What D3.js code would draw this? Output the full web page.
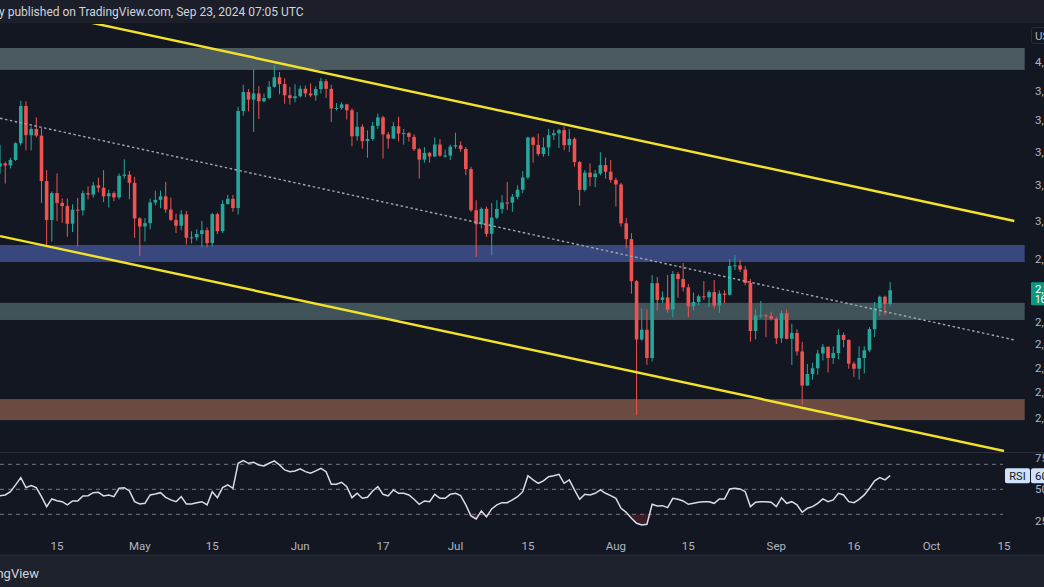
<!DOCTYPE html>
<html><head><meta charset="utf-8">
<script src="https://cdn.jsdelivr.net/npm/d3@7"></script>
<style>
html,body{margin:0;padding:0;background:#131722;overflow:hidden}
svg{display:block}
text{font-family:Roboto,"Noto Sans",sans-serif}
</style></head><body>
<svg id="c" width="1044" height="587"></svg>
<script>
// ---------- DATA ----------
const dates = [
"2024-04-03","2024-04-04","2024-04-05","2024-04-06","2024-04-07","2024-04-08","2024-04-09","2024-04-10","2024-04-11","2024-04-12","2024-04-13","2024-04-14","2024-04-15","2024-04-16","2024-04-17","2024-04-18","2024-04-19","2024-04-20","2024-04-21","2024-04-22","2024-04-23","2024-04-24","2024-04-25","2024-04-26","2024-04-27","2024-04-28","2024-04-29","2024-04-30",
"2024-05-01","2024-05-02","2024-05-03","2024-05-04","2024-05-05","2024-05-06","2024-05-07","2024-05-08","2024-05-09","2024-05-10","2024-05-11","2024-05-12","2024-05-13","2024-05-14","2024-05-15","2024-05-16","2024-05-17","2024-05-18","2024-05-19","2024-05-20","2024-05-21","2024-05-22","2024-05-23","2024-05-24","2024-05-25","2024-05-26","2024-05-27","2024-05-28","2024-05-29","2024-05-30","2024-05-31",
"2024-06-01","2024-06-02","2024-06-03","2024-06-04","2024-06-05","2024-06-06","2024-06-07","2024-06-08","2024-06-09","2024-06-10","2024-06-11","2024-06-12","2024-06-13","2024-06-14","2024-06-15","2024-06-16","2024-06-17","2024-06-18","2024-06-19","2024-06-20","2024-06-21","2024-06-22","2024-06-23","2024-06-24","2024-06-25","2024-06-26","2024-06-27","2024-06-28","2024-06-29","2024-06-30",
"2024-07-01","2024-07-02","2024-07-03","2024-07-04","2024-07-05","2024-07-06","2024-07-07","2024-07-08","2024-07-09","2024-07-10","2024-07-11","2024-07-12","2024-07-13","2024-07-14","2024-07-15","2024-07-16","2024-07-17","2024-07-18","2024-07-19","2024-07-20","2024-07-21","2024-07-22","2024-07-23","2024-07-24","2024-07-25","2024-07-26","2024-07-27","2024-07-28","2024-07-29","2024-07-30","2024-07-31",
"2024-08-01","2024-08-02","2024-08-03","2024-08-04","2024-08-05","2024-08-06","2024-08-07","2024-08-08","2024-08-09","2024-08-10","2024-08-11","2024-08-12","2024-08-13","2024-08-14","2024-08-15","2024-08-16","2024-08-17","2024-08-18","2024-08-19","2024-08-20","2024-08-21","2024-08-22","2024-08-23","2024-08-24","2024-08-25","2024-08-26","2024-08-27","2024-08-28","2024-08-29","2024-08-30","2024-08-31",
"2024-09-01","2024-09-02","2024-09-03","2024-09-04","2024-09-05","2024-09-06","2024-09-07","2024-09-08","2024-09-09","2024-09-10","2024-09-11","2024-09-12","2024-09-13","2024-09-14","2024-09-15","2024-09-16","2024-09-17","2024-09-18","2024-09-19","2024-09-20","2024-09-21","2024-09-22","2024-09-23"
];
const open = [
3278,3311,3330,3318,3351,3454,3695,3505,3545,3502,3225,3005,3156,3100,3082,2985,3062,3058,3155,3147,3200,3186,3137,3155,3131,3256,3263,3215,
3014,2970,2988,3102,3117,3137,3063,3006,2974,3036,2910,2912,2930,2950,2882,3037,2945,3094,3123,3071,3662,3790,3738,3780,3727,3749,3826,3893,3845,3768,3748,
3761,3813,3780,3767,3810,3865,3812,3679,3682,3706,3667,3498,3559,3467,3481,3565,3620,3510,3483,3562,3515,3518,3494,3417,3353,3394,3372,3446,3378,3378,
3433,3441,3418,3296,3059,2982,3067,2931,3018,3066,3102,3101,3134,3175,3246,3490,3444,3387,3428,3505,3517,3537,3442,3482,3338,3174,3275,3248,3269,3320,3280,
3232,3205,2987,2903,2690,2420,2463,2340,2680,2600,2612,2555,2725,2700,2660,2570,2590,2617,2612,2637,2573,2630,2624,2765,2768,2747,2681,2457,2528,2528,2525,
2513,2425,2538,2423,2449,2368,2226,2273,2297,2359,2388,2340,2361,2440,2418,2316,2295,2340,2373,2466,2561,2615,2581
];
const high = [
3440,3445,3340,3365,3460,3730,3726,3560,3620,3550,3290,3165,3270,3125,3125,3092,3128,3170,3195,3220,3245,3290,3175,3165,3270,3355,3285,3250,
3020,3015,3125,3170,3170,3220,3130,3040,3060,3055,2945,2955,3000,2965,3045,3045,3115,3145,3145,3690,3840,3810,3950,3830,3780,3865,3977,3930,3885,3825,3845,
3835,3835,3850,3830,3888,3880,3840,3715,3720,3710,3680,3655,3575,3535,3590,3645,3630,3525,3590,3625,3545,3525,3510,3425,3430,3400,3490,3480,3415,3445,
3520,3465,3430,3310,3115,3075,3080,3100,3115,3145,3220,3150,3200,3285,3495,3495,3515,3490,3545,3540,3545,3560,3545,3490,3345,3290,3330,3290,3398,3365,3350,
3245,3215,3015,2935,2695,2560,2555,2720,2710,2640,2720,2740,2735,2780,2675,2635,2625,2690,2645,2695,2645,2645,2800,2820,2795,2765,2700,2555,2595,2535,2545,
2520,2550,2555,2490,2465,2410,2315,2320,2375,2400,2390,2390,2465,2450,2420,2325,2390,2390,2475,2590,2620,2620,2685
];
const low = [
3206,3266,3210,3300,3345,3440,3410,3410,3490,3100,2870,2890,3000,2990,2915,2940,2865,3030,3120,3130,3160,3105,3075,3110,3120,3240,3120,2910,
2815,2890,2955,3085,3070,3045,3000,2935,2950,2875,2880,2895,2860,2860,2865,2930,2935,3090,3050,3035,3630,3660,3525,3610,3720,3740,3820,3775,3710,3705,3720,
3752,3755,3755,3730,3780,3750,3590,3665,3670,3605,3435,3470,3420,3365,3470,3545,3360,3420,3480,3465,3445,3465,3405,3240,3335,3335,3370,3370,3365,3350,
3420,3400,3260,3050,2810,2960,2915,2820,3010,3040,3060,3050,3120,3155,3235,3335,3375,3370,3375,3475,3425,3410,3400,3310,3085,3165,3195,3190,3260,3240,3215,
3080,2970,2855,2630,2111,2415,2310,2325,2550,2585,2540,2520,2610,2640,2520,2550,2575,2600,2565,2560,2540,2585,2620,2745,2735,2670,2410,2420,2515,2430,2505,
2400,2405,2420,2310,2350,2150,2225,2250,2270,2330,2280,2315,2335,2385,2295,2260,2250,2275,2365,2430,2525,2530,2570
];
const close = [
3311,3330,3318,3351,3454,3695,3505,3545,3502,3225,3005,3156,3100,3082,2985,3062,3058,3155,3147,3200,3186,3137,3155,3131,3256,3263,3215,3014,
2970,2988,3102,3117,3137,3063,3006,2974,3036,2910,2912,2930,2950,2882,3037,2945,3094,3123,3071,3662,3790,3738,3780,3727,3749,3826,3893,3845,3768,3748,3761,
3813,3780,3767,3810,3865,3812,3679,3682,3706,3667,3498,3559,3467,3481,3565,3620,3510,3483,3562,3515,3518,3494,3417,3353,3394,3372,3446,3378,3378,3433,
3441,3418,3296,3059,2982,3067,2931,3018,3066,3102,3101,3134,3175,3246,3490,3444,3387,3428,3505,3517,3537,3442,3482,3338,3174,3275,3248,3269,3320,3280,3232,
3205,2987,2903,2690,2420,2463,2340,2680,2600,2612,2555,2725,2700,2660,2570,2590,2617,2612,2637,2573,2630,2624,2765,2768,2747,2681,2457,2528,2528,2525,2513,
2425,2538,2423,2449,2368,2226,2273,2297,2359,2388,2340,2361,2440,2418,2316,2295,2340,2373,2466,2561,2615,2581,2646
];
const rsi = [
44.5,44.9,45.5,48.1,53.5,59.3,51.3,52.9,51.3,44.1,36.1,42.3,40.9,40.1,37.5,40.7,40.7,44.7,44.9,47.3,47.6,44.7,45.5,44.1,50.8,51.3,48.7,40.1,
38.3,38.8,45.5,46.3,47.3,43.6,41.5,40.1,44.1,38.3,38.3,39.3,40.1,37.5,48.1,43.3,51.3,53.5,50.8,70.8,72.9,70.8,71.6,69.5,68.7,70.8,72.7,69.5,65.5,64.1,64.7,
66.3,64.1,62.8,64.7,66.8,64.1,54,54,55.6,52.1,43.3,46.8,42.8,43.6,48.7,52.1,46,44.7,49.5,46.8,46.8,45.5,42,38,40.7,40.1,46,42.8,42.8,46,
46.8,44.9,37.5,28.7,26.3,32.7,28.1,34.3,37.5,39.3,39.3,41.5,44.1,48.1,60.9,57.5,54.8,56.7,60.1,60.9,62,54.8,57.5,49.5,42,46,45.5,46.8,49.5,46.8,44.9,
42.8,34.8,31.6,26.8,22.8,21.5,22,38,36.7,36.9,35.3,42.8,42,40.7,38,38.8,39.6,40.1,40.1,38.8,42.3,42.3,50.3,50.8,50.3,48.1,36.1,39.6,40.1,40.1,39.6,
36.1,43.3,38.8,40.1,37.5,31.6,34.8,36.1,38.8,42.3,40.1,41.5,46.8,45.5,40.1,39.3,42,45.5,50.8,56.7,59.3,57.5,60.9
];
// horizontal zones (price bounds) and their end date
const zoneLo = [3945, 2785, 2507, 2091];
const zoneHi = [4105, 2872, 2586, 2172];
const zoneStart = "2024-04-01";
const zoneEnd = "2024-10-19";
// trend lines: [date, price] end points
const upperLine = [["2024-04-21", 4303], ["2024-10-17", 3000]];
const lowerLine = [["2024-04-04", 2919], ["2024-10-15", 1977]];
const midLine   = [["2024-04-04", 3614], ["2024-10-17", 2418]];
// axis ticks
const priceTicks = [4000, 3800, 3600, 3400, 3200, 3000, 2800, 2500, 2400, 2300, 2200, 2100];
const rsiTicks = [75, 50, 25];
const rsiBands = [70, 50, 30];
const timeTicks = [["2024-04-15","15"],["2024-05-01","May"],["2024-05-15","15"],["2024-06-01","Jun"],["2024-06-17","17"],["2024-07-01","Jul"],["2024-07-15","15"],["2024-08-01","Aug"],["2024-08-15","15"],["2024-09-01","Sep"],["2024-09-16","16"],["2024-10-01","Oct"],["2024-10-15","15"]];
const lastPriceLabel = ["2,646.48", "16:54:36"];
const rsiLabel = "60.88";

// ---------- DRAW ----------
const W = 1044, H = 587;
const parse = d3.utcParse("%Y-%m-%d");
const svg = d3.select("#c");
const BG = "#131722";
const UP = "#26a69a", DN = "#ef5350";

const x = d3.scaleUtc().domain([parse("2024-04-15"), parse("2024-10-15")]).range([57, 1004]);
const y = d3.scaleLog().domain([2000, 4000]).range([444.6, 62.3]);
const yr = d3.scaleLinear().domain([30, 70]).range([514.3, 464.3]);

svg.append("rect").attr("width", W).attr("height", H).attr("fill", BG);

const defs = svg.append("defs");
defs.append("clipPath").attr("id", "mainClip").append("rect").attr("x", 0).attr("y", 24).attr("width", 1030).attr("height", 428);
defs.append("clipPath").attr("id", "rsiClip").append("rect").attr("x", 0).attr("y", 453).attr("width", 1030).attr("height", 80);

const main = svg.append("g").attr("clip-path", "url(#mainClip)");

// zones
const zoneColors = ["#4a5a5f", "#39477f", "#3f5358", "#6a4a41"];
main.selectAll("rect.zone").data(zoneLo).join("rect")
  .attr("class", "zone")
  .attr("x", x(parse(zoneStart)))
  .attr("width", x(parse(zoneEnd)) - x(parse(zoneStart)))
  .attr("y", (d, i) => y(zoneHi[i]))
  .attr("height", (d, i) => y(zoneLo[i]) - y(zoneHi[i]))
  .attr("fill", (d, i) => zoneColors[i]);

// candles
const idx = d3.range(dates.length);
const bw = 3.6;
const cg = main.append("g");
cg.selectAll("line").data(idx).join("line")
  .attr("x1", i => x(parse(dates[i]))).attr("x2", i => x(parse(dates[i])))
  .attr("y1", i => y(high[i])).attr("y2", i => y(low[i]))
  .attr("stroke", i => close[i] >= open[i] ? UP : DN).attr("stroke-width", 1);
cg.selectAll("rect").data(idx).join("rect")
  .attr("x", i => x(parse(dates[i])) - bw / 2).attr("width", bw)
  .attr("y", i => y(Math.max(open[i], close[i])))
  .attr("height", i => Math.max(1, y(Math.min(open[i], close[i])) - y(Math.max(open[i], close[i]))))
  .attr("fill", i => close[i] >= open[i] ? UP : DN);

// trend lines
const lineGen = d3.line().x(d => x(parse(d[0]))).y(d => y(d[1]));
main.append("path").attr("d", lineGen(midLine)).attr("fill", "none")
  .attr("stroke", "#a3a6af").attr("stroke-width", 1.4).attr("stroke-dasharray", "2.5,2.5");
main.append("path").attr("d", lineGen(upperLine)).attr("fill", "none")
  .attr("stroke", "#f2e22c").attr("stroke-width", 2.4);
main.append("path").attr("d", lineGen(lowerLine)).attr("fill", "none")
  .attr("stroke", "#f2e22c").attr("stroke-width", 2.4);

// header
svg.append("rect").attr("x", 0).attr("y", 0).attr("width", W).attr("height", 23).attr("fill", "#1c1f2a");
svg.append("text").attr("x", -1).attr("y", 16).attr("fill", "#d1d4dc").attr("font-size", 12)
  .text("y published on TradingView.com, Sep 23, 2024 07:05 UTC");

// pane separator
svg.append("line").attr("x1", 0).attr("x2", W).attr("y1", 452.5).attr("y2", 452.5).attr("stroke", "#2a2e39");

// price axis labels
svg.selectAll("text.pt").data(priceTicks).join("text").attr("class", "pt")
  .attr("x", 1035).attr("y", d => y(d) + 4).attr("fill", "#b2b5be").attr("font-size", 11.5)
  .text(d => d3.format(",.2f")(d));

// USDT box
svg.append("rect").attr("x", 1031.5).attr("y", 27.5).attr("width", 30).attr("height", 16)
  .attr("fill", BG).attr("stroke", "#2a2e39").attr("rx", 2);
svg.append("text").attr("x", 1035).attr("y", 40).attr("fill", "#b2b5be").attr("font-size", 11.5).text("USDT");

// last price label
const yl = y(close[close.length - 1]);
svg.append("rect").attr("x", 1031).attr("y", yl - 8).attr("width", 40).attr("height", 23).attr("fill", "#089981").attr("rx", 1);
svg.append("text").attr("x", 1035).attr("y", yl + 3).attr("fill", "#ffffff").attr("font-size", 11.5).text(lastPriceLabel[0]);
svg.append("text").attr("x", 1035).attr("y", yl + 13).attr("fill", "#ffffff").attr("font-size", 10).text(lastPriceLabel[1]);

// RSI pane
const rg = svg.append("g").attr("clip-path", "url(#rsiClip)");
rg.selectAll("line.band").data(rsiBands).join("line").attr("class", "band")
  .attr("x1", 0).attr("x2", 1003).attr("y1", d => yr(d)).attr("y2", d => yr(d))
  .attr("stroke", "#787b86").attr("stroke-width", 1).attr("stroke-dasharray", "4,4");
// oversold glow
const area = d3.area().x(i => x(parse(dates[i]))).y0(yr(30)).y1(i => yr(Math.min(30, rsi[i])));
rg.append("path").attr("d", area(idx)).attr("fill", "#f23645").attr("opacity", 0.18);
const rline = d3.line().x(i => x(parse(dates[i]))).y(i => yr(rsi[i]));
rg.append("path").attr("d", rline(idx)).attr("fill", "none").attr("stroke", "#d6dcea").attr("stroke-width", 1.5);

svg.selectAll("text.rt").data(rsiTicks).join("text").attr("class", "rt")
  .attr("x", 1035).attr("y", d => yr(d) + 4).attr("fill", "#b2b5be").attr("font-size", 11.5)
  .text(d => d + ".00");
const yrl = yr(rsi[rsi.length - 1]);
svg.append("rect").attr("x", 1005).attr("y", yrl - 7.5).attr("width", 25).attr("height", 15).attr("fill", "#cfe2fb").attr("rx", 2);
svg.append("text").attr("x", 1017.5).attr("y", yrl + 4).attr("text-anchor", "middle").attr("fill", "#131722").attr("font-size", 11).text("RSI");
svg.append("rect").attr("x", 1031).attr("y", yrl - 7.5).attr("width", 40).attr("height", 15).attr("fill", "#cfe2fb").attr("rx", 2);
svg.append("text").attr("x", 1035).attr("y", yrl + 4).attr("fill", "#131722").attr("font-size", 11.5).text(rsiLabel);

// time axis
svg.selectAll("text.tt").data(timeTicks).join("text").attr("class", "tt")
  .attr("x", d => x(parse(d[0]))).attr("y", 550).attr("text-anchor", "middle")
  .attr("fill", "#b2b5be").attr("font-size", 11.5).text(d => d[1]);

// bottom bar
svg.append("rect").attr("x", 0).attr("y", 555).attr("width", W).attr("height", 32).attr("fill", "#1e222d");
svg.append("line").attr("x1", 0).attr("x2", W).attr("y1", 555).attr("y2", 555).attr("stroke", "#2a2e39");
svg.append("text").attr("x", 39).attr("y", 578).attr("text-anchor", "end").attr("fill", "#d1d4dc")
  .attr("font-size", 13).text("TradingView");
</script>
</body></html>
